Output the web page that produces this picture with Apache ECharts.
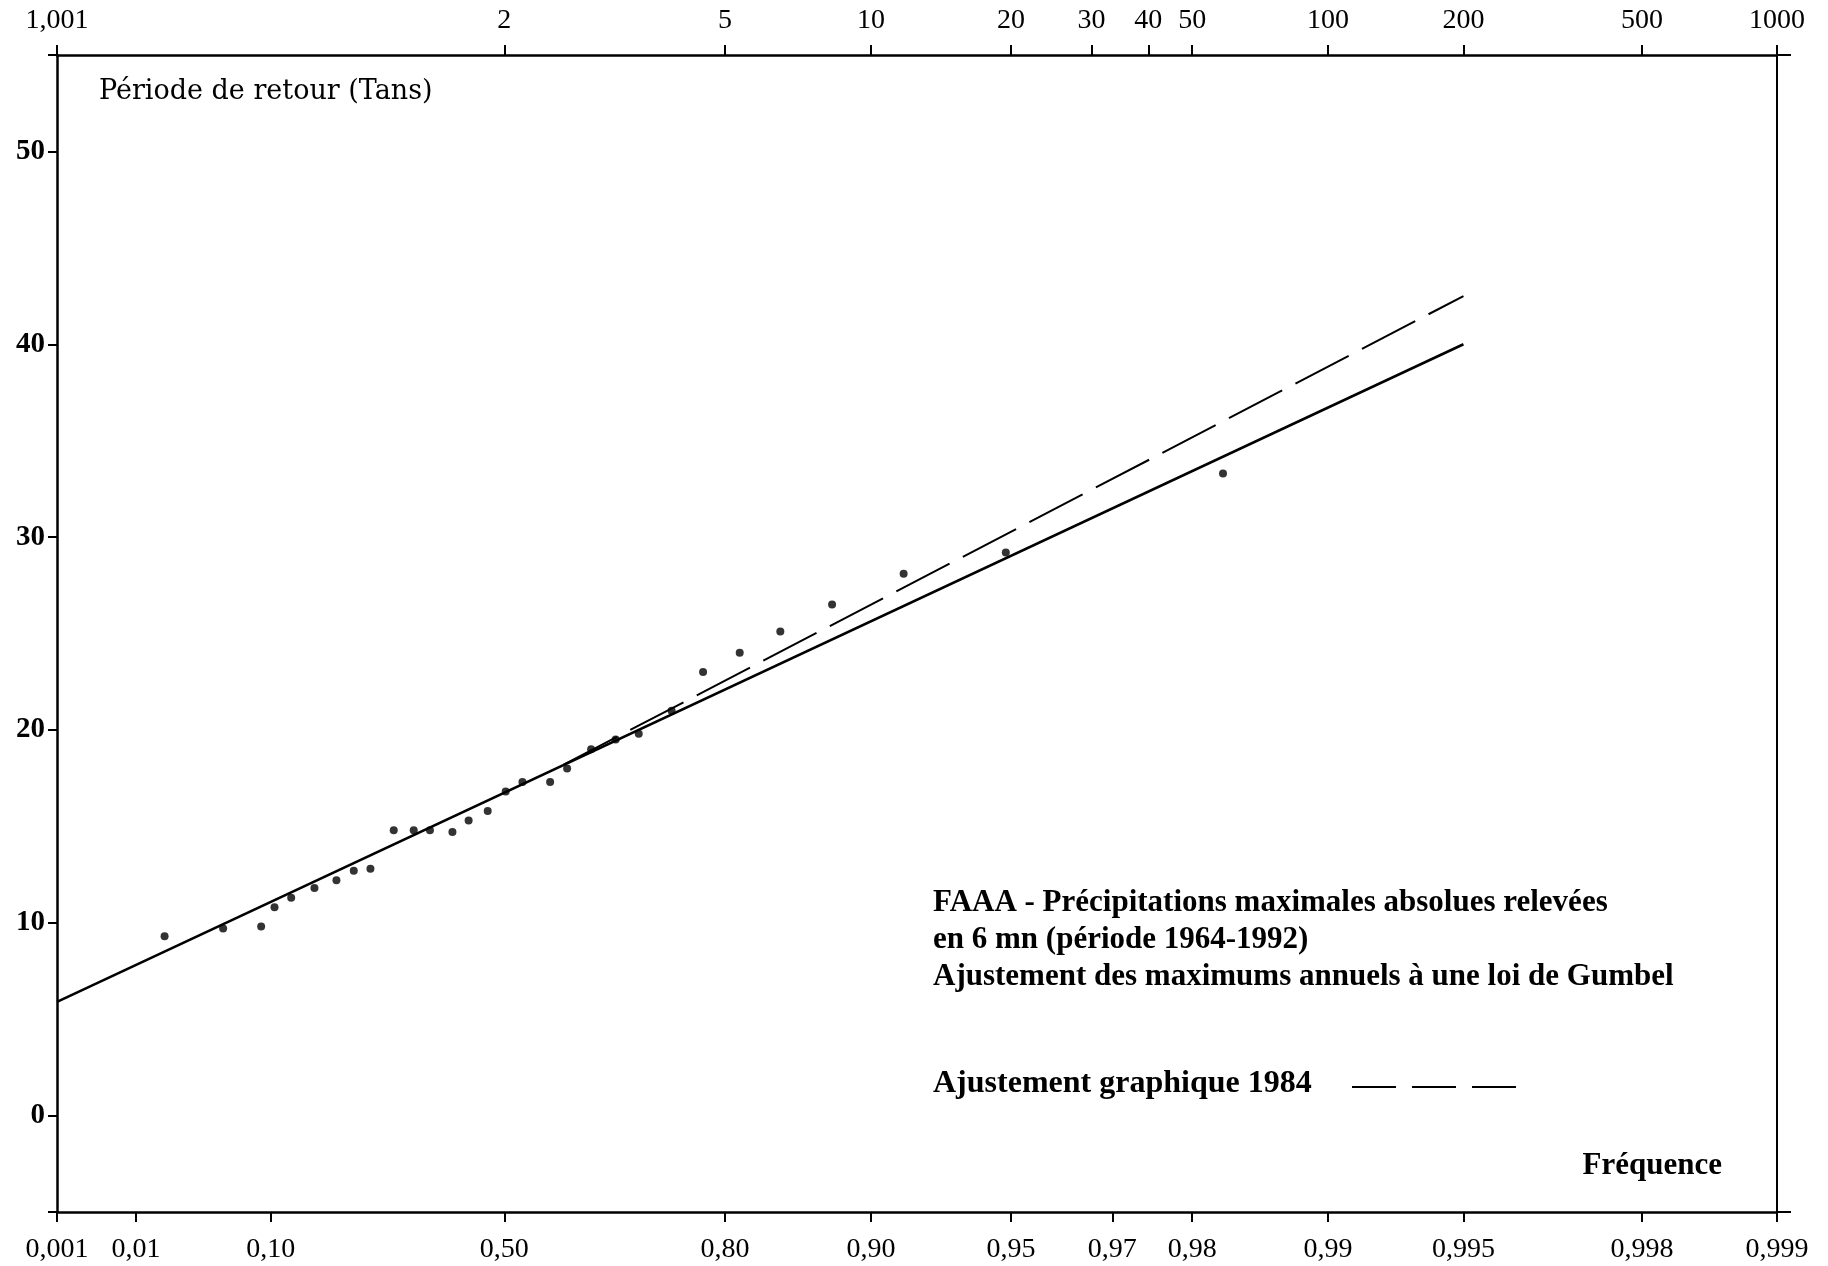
<!DOCTYPE html>
<html>
<head>
<meta charset="utf-8">
<title>FAAA - loi de Gumbel</title>
<script src="https://cdn.jsdelivr.net/npm/echarts@6.0.0/dist/echarts.min.js"></script>
<style>
  html, body { margin: 0; padding: 0; background: #fff; }
  #chart { width: 1828px; height: 1266px; }
</style>
</head>
<body>
<div id="chart"></div>
<script>
// frequences empiriques des maximums annuels
const obsFreq = [0.0188, 0.0528, 0.0890, 0.1045, 0.1258, 0.1589, 0.1934, 0.2225, 0.2517, 0.2941,
  0.3314, 0.3620, 0.4045, 0.4348, 0.4700, 0.5024, 0.5317, 0.5782, 0.6053, 0.6416,
  0.6763, 0.7065, 0.7457, 0.7791, 0.8132, 0.8455, 0.8793, 0.9148, 0.9487, 0.9829];
// precipitations maximales en 6 mn (mm)
const obsValue = [9.3, 9.7, 9.8, 10.8, 11.3, 11.8, 12.2, 12.7, 12.8, 14.8,
  14.8, 14.8, 14.7, 15.3, 15.8, 16.8, 17.3, 17.3, 18.0, 19.0,
  19.5, 19.8, 21.0, 23.0, 24.0, 25.1, 26.5, 28.1, 29.2, 33.3];

// droite de Gumbel ajustee
const fitFreq = [0.001, 0.995];
const fitValue = [5.9, 40.0];

// ajustement graphique 1984
const graphFreq = [0.60, 0.995];
const graphValue = [18.2, 42.5];

// graduations
const freqTicks = [0.001, 0.01, 0.10, 0.50, 0.80, 0.90, 0.95, 0.97, 0.98, 0.99, 0.995, 0.998, 0.999];
const freqLabels = ['0,001', '0,01', '0,10', '0,50', '0,80', '0,90', '0,95', '0,97', '0,98', '0,99', '0,995', '0,998', '0,999'];
const periodTicks = [1.001, 2, 5, 10, 20, 30, 40, 50, 100, 200, 500, 1000];
const periodLabels = ['1,001', '2', '5', '10', '20', '30', '40', '50', '100', '200', '500', '1000'];
const valueTicks = [-5, 0, 10, 20, 30, 40, 50, 55];
const valueLabels = [0, 10, 20, 30, 40, 50];

const FONT = 'Liberation Serif';

// variable reduite de Gumbel
const gumbel = f => -Math.log(-Math.log(f));
const uMin = gumbel(0.001);
const uMax = gumbel(0.999);
const clamp = u => Math.min(uMax, Math.max(uMin, u));

const freqU = freqTicks.map(f => clamp(gumbel(f)));
const periodU = periodTicks.map(t => clamp(gumbel(1 - 1 / t)));

function lookup(positions, labels) {
  return function (v) {
    const i = positions.findIndex(u => Math.abs(u - v) < 1e-6);
    return i < 0 ? '' : labels[i];
  };
}

const toPoints = (fs, vs) => fs.map((f, i) => [gumbel(f), vs[i]]);

const tickStyle = { color: '#000', width: 2 };

const option = {
  backgroundColor: '#fff',
  animation: false,
  grid: { left: 57, right: 51, top: 55, bottom: 54, outerBoundsMode: 'none' },
  title: {
    text: 'FAAA - Précipitations maximales absolues relevées\nen 6 mn (période 1964-1992)\nAjustement des maximums annuels à une loi de Gumbel',
    left: 933,
    top: 884,
    padding: 0,
    textStyle: { fontFamily: FONT, fontSize: 31, fontWeight: 'bold', lineHeight: 37, color: '#000' }
  },
  xAxis: [
    {
      type: 'value',
      position: 'bottom',
      min: uMin,
      max: uMax,
      splitLine: { show: false },
      axisLine: { onZero: false, lineStyle: { color: '#000', width: 2.5 } },
      axisTick: { customValues: freqU, length: 10, inside: false, lineStyle: tickStyle },
      axisLabel: {
        customValues: freqU,
        formatter: lookup(freqU, freqLabels),
        margin: 24,
        fontFamily: FONT, fontSize: 28, color: '#000'
      }
    },
    {
      type: 'value',
      position: 'top',
      min: uMin,
      max: uMax,
      splitLine: { show: false },
      axisLine: { onZero: false, lineStyle: { color: '#000', width: 2.5 } },
      axisTick: { customValues: periodU, length: 10, inside: false, lineStyle: tickStyle },
      axisLabel: {
        customValues: periodU,
        formatter: lookup(periodU, periodLabels),
        margin: 20,
        fontFamily: FONT, fontSize: 28, color: '#000'
      }
    }
  ],
  yAxis: [
    {
      type: 'value',
      position: 'left',
      min: -5,
      max: 55,
      splitLine: { show: false },
      axisLine: { show: true, onZero: false, lineStyle: { color: '#000', width: 2.5 } },
      axisTick: { show: true, customValues: valueTicks, length: 9, lineStyle: tickStyle },
      axisLabel: {
        customValues: valueLabels,
        margin: 12,
        fontFamily: FONT, fontSize: 29, fontWeight: 'bold', color: '#000'
      }
    },
    {
      type: 'value',
      position: 'right',
      min: -5,
      max: 55,
      splitLine: { show: false },
      axisLine: { show: true, onZero: false, lineStyle: { color: '#000', width: 2 } },
      axisTick: { show: true, customValues: [-5, 55], length: 14, lineStyle: tickStyle },
      axisLabel: { show: false }
    }
  ],
  series: [
    {
      name: 'Loi de Gumbel',
      type: 'line',
      data: toPoints(fitFreq, fitValue),
      symbol: 'none',
      lineStyle: { color: '#000', width: 2.6 },
      z: 2
    },
    {
      name: 'Ajustement graphique 1984',
      type: 'line',
      data: toPoints(graphFreq, graphValue),
      symbol: 'none',
      lineStyle: { color: '#000', width: 2, type: [60, 15] },
      z: 2
    },
    {
      name: 'Maximums annuels',
      type: 'scatter',
      data: toPoints(obsFreq, obsValue),
      symbolSize: 8,
      itemStyle: { color: '#000' },
      z: 3
    }
  ],
  graphic: [
    {
      type: 'text',
      left: 99,
      top: 78,
      style: { text: 'Période de retour (Tans)', font: '27px "DejaVu Serif"', fill: '#000' }
    },
    {
      type: 'text',
      right: 106,
      top: 1150,
      style: { text: 'Fréquence', font: 'bold 31px "' + FONT + '"', fill: '#000' }
    },
    {
      type: 'text',
      left: 933,
      top: 1068,
      style: { text: 'Ajustement graphique 1984', font: 'bold 32px "' + FONT + '"', fill: '#000' }
    },
    {
      type: 'line',
      shape: { x1: 1352, y1: 1087, x2: 1518, y2: 1087 },
      style: { stroke: '#000', lineWidth: 2, lineDash: [44, 16] }
    }
  ]
};

const myChart = echarts.init(document.getElementById('chart'));
myChart.setOption(option);
</script>
</body>
</html>
